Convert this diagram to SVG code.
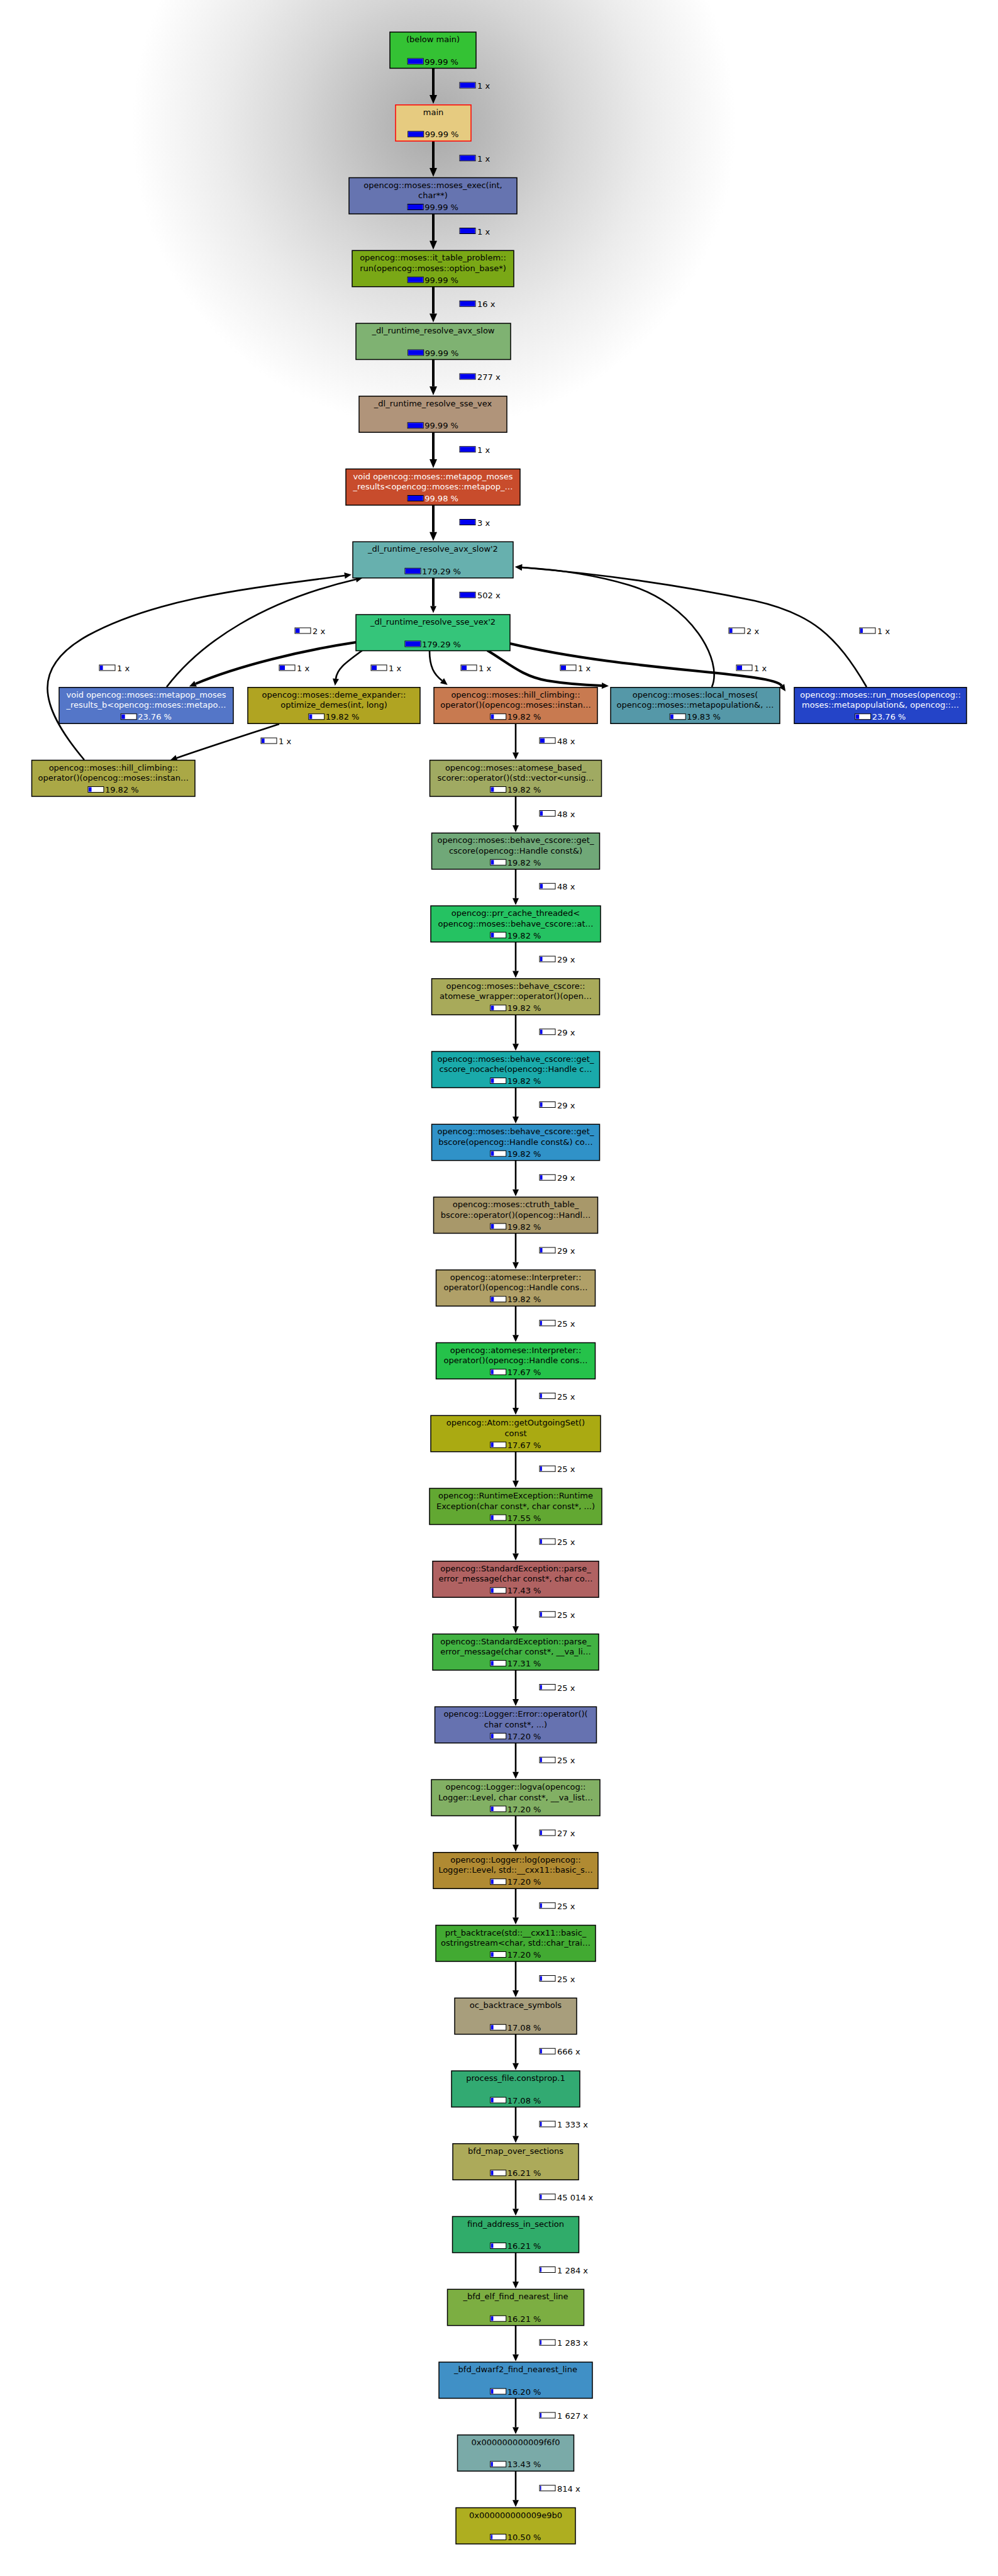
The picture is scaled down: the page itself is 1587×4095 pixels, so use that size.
<svg xmlns="http://www.w3.org/2000/svg" width="1587" height="4095" viewBox="0 0 1587 4095">
<defs>
<radialGradient id="shade" gradientUnits="userSpaceOnUse" cx="690" cy="200" r="480">
<stop offset="0" stop-color="#a8a8a8"/>
<stop offset="0.2" stop-color="#bcbcbc"/>
<stop offset="0.45" stop-color="#d6d6d6"/>
<stop offset="0.7" stop-color="#ebebeb"/>
<stop offset="1" stop-color="#ffffff"/>
</radialGradient>
<marker id="ah" markerUnits="userSpaceOnUse" markerWidth="16" markerHeight="14" refX="0" refY="0" orient="auto" viewBox="0 -7 16 14" overflow="visible">
<path d="M0,-6 L14,0 L0,6 z" fill="#000"/>
</marker>
<marker id="as" markerUnits="userSpaceOnUse" markerWidth="14" markerHeight="12" refX="0" refY="0" orient="auto" viewBox="0 -6 14 12" overflow="visible">
<path d="M0,-5 L11,0 L0,5 z" fill="#000"/>
</marker>
</defs>
<style>
.nr{stroke:#000;stroke-width:1.5}
text{font-family:"DejaVu Sans","Liberation Sans",sans-serif;font-size:13px;fill:#000}
.t{text-anchor:middle}
.w text,.w .t{fill:#fff}
.bb{fill:#fff;stroke:#000;stroke-width:1}
.bf{fill:#0000f0}
.e{fill:none;stroke:#000;stroke-width:2.6}
.ek{fill:none;stroke:#000;stroke-width:4}
.ea{marker-end:url(#ah)}
.es{marker-end:url(#as)}
</style>
<rect x="0" y="0" width="1587" height="4095" fill="#fff"/>
<rect x="0" y="0" width="1587" height="700" fill="url(#shade)"/>

<g id="connectors">
<path class="ek ea" d="M689,108.5 V151"/>
<path class="ek ea" d="M689,224.25 V267"/>
<path class="ek ea" d="M689,340 V382.75"/>
<path class="ek ea" d="M689,455.75 V498.5"/>
<path class="ek ea" d="M689,571.5 V614.25"/>
<path class="ek ea" d="M689,687.25 V730"/>
<path class="ek ea" d="M689,803 V845.75"/>
<path class="ek es" d="M689,918.75 V963.5"/>
<path class="ek es" d="M566,1021 C480,1034 380,1058 311,1087"/>
<path class="e es" d="M576,1034 C552,1052 536,1062 534,1079"/>
<path class="e es" d="M683,1034 C683,1060 690,1072 703,1082"/>
<path class="ek es" d="M775,1034 C810,1055 830,1075 870,1082 C900,1087 930,1089 957,1090"/>
<path class="ek es" d="M811,1023 C1000,1068 1228,1068 1243,1090"/>
<path class="e es" d="M265,1092 C320,1020 420,955 566,921"/>
<path class="e es" d="M134,1208 C60,1120 50,1060 140,1010 C250,950 400,935 548,915"/>
<path class="e es" d="M1132,1092 C1150,1050 1100,960 1000,930 C940,912 880,905 830,902"/>
<path class="e es" d="M1378,1092 C1330,1010 1290,975 1200,955 C1080,930 950,912 830,902"/>
<path class="e es" d="M444,1151 C380,1172 330,1188 281,1205"/>
<path class="e es" d="M820,1150.25 V1196.25"/>
<path class="e es" d="M820,1266 V1312"/>
<path class="e es" d="M820,1381.75 V1427.75"/>
<path class="e es" d="M820,1497.5 V1543.5"/>
<path class="e es" d="M820,1613.25 V1659.25"/>
<path class="e es" d="M820,1729 V1775"/>
<path class="e es" d="M820,1844.75 V1890.75"/>
<path class="e es" d="M820,1960.5 V2006.5"/>
<path class="e es" d="M820,2076.25 V2122.25"/>
<path class="e es" d="M820,2192 V2238"/>
<path class="e es" d="M820,2307.75 V2353.75"/>
<path class="e es" d="M820,2423.5 V2469.5"/>
<path class="e es" d="M820,2539.25 V2585.25"/>
<path class="e es" d="M820,2655 V2701"/>
<path class="e es" d="M820,2770.75 V2816.75"/>
<path class="e es" d="M820,2886.5 V2932.5"/>
<path class="e es" d="M820,3002.25 V3048.25"/>
<path class="e es" d="M820,3118 V3164"/>
<path class="e es" d="M820,3233.75 V3279.75"/>
<path class="e es" d="M820,3349.5 V3395.5"/>
<path class="e es" d="M820,3465.25 V3511.25"/>
<path class="e es" d="M820,3581 V3627"/>
<path class="e es" d="M820,3696.75 V3742.75"/>
<path class="e es" d="M820,3812.5 V3858.5"/>
<path class="e es" d="M820,3928.25 V3974.25"/>

<g id="edge-labels">
<rect class="bb" x="731" y="131" width="25" height="9"/><rect class="bf" x="731.5" y="131.5" width="24" height="8"/><text x="759" y="141">1 x</text>
<rect class="bb" x="731" y="246.75" width="25" height="9"/><rect class="bf" x="731.5" y="247.25" width="24" height="8"/><text x="759" y="256.75">1 x</text>
<rect class="bb" x="731" y="362.5" width="25" height="9"/><rect class="bf" x="731.5" y="363" width="24" height="8"/><text x="759" y="372.5">1 x</text>
<rect class="bb" x="731" y="478.25" width="25" height="9"/><rect class="bf" x="731.5" y="478.75" width="24" height="8"/><text x="759" y="488.25">16 x</text>
<rect class="bb" x="731" y="594" width="25" height="9"/><rect class="bf" x="731.5" y="594.5" width="24" height="8"/><text x="759" y="604">277 x</text>
<rect class="bb" x="731" y="709.75" width="25" height="9"/><rect class="bf" x="731.5" y="710.25" width="24" height="8"/><text x="759" y="719.75">1 x</text>
<rect class="bb" x="731" y="825.5" width="25" height="9"/><rect class="bf" x="731.5" y="826" width="24" height="8"/><text x="759" y="835.5">3 x</text>
<rect class="bb" x="731" y="941.25" width="25" height="9"/><rect class="bf" x="731.5" y="941.75" width="24" height="8"/><text x="759" y="951.25">502 x</text>

<rect class="bb" x="469" y="998" width="25" height="9"/><rect class="bf" x="470" y="999" width="6.5" height="7"/><text x="497" y="1008">2 x</text>
<rect class="bb" x="1159" y="998" width="25" height="9"/><rect class="bf" x="1160" y="999" width="4.6" height="7"/><text x="1187" y="1008">2 x</text>
<rect class="bb" x="1367" y="998" width="25" height="9"/><rect class="bf" x="1368" y="999" width="4" height="7"/><text x="1395" y="1008">1 x</text>
<rect class="bb" x="158" y="1057" width="25" height="9"/><rect class="bf" x="159" y="1058" width="4.6" height="7"/><text x="186" y="1067">1 x</text>
<rect class="bb" x="444" y="1057" width="25" height="9"/><rect class="bf" x="445" y="1058" width="8" height="7"/><text x="472" y="1067">1 x</text>
<rect class="bb" x="590" y="1057" width="25" height="9"/><rect class="bf" x="591" y="1058" width="8" height="7"/><text x="618" y="1067">1 x</text>
<rect class="bb" x="733" y="1057" width="25" height="9"/><rect class="bf" x="734" y="1058" width="8" height="7"/><text x="761" y="1067">1 x</text>
<rect class="bb" x="891" y="1057" width="25" height="9"/><rect class="bf" x="892" y="1058" width="8" height="7"/><text x="919" y="1067">1 x</text>
<rect class="bb" x="1171" y="1057" width="25" height="9"/><rect class="bf" x="1172" y="1058" width="8" height="7"/><text x="1199" y="1067">1 x</text>
<rect class="bb" x="415" y="1173" width="25" height="9"/><rect class="bf" x="416" y="1174" width="4.6" height="7"/><text x="443" y="1183">1 x</text>
<rect class="bb" x="858" y="1172.75" width="25" height="9"/><rect class="bf" x="859" y="1173.75" width="7" height="7"/><text x="886" y="1182.75">48 x</text>

<rect class="bb" x="858" y="1288.5" width="25" height="9"/><rect class="bf" x="859" y="1289.5" width="4" height="7"/><text x="886" y="1298.5">48 x</text>
<rect class="bb" x="858" y="1404.25" width="25" height="9"/><rect class="bf" x="859" y="1405.25" width="4" height="7"/><text x="886" y="1414.25">48 x</text>
<rect class="bb" x="858" y="1520" width="25" height="9"/><rect class="bf" x="859" y="1521" width="3.5" height="7"/><text x="886" y="1530">29 x</text>
<rect class="bb" x="858" y="1635.75" width="25" height="9"/><rect class="bf" x="859" y="1636.75" width="3.5" height="7"/><text x="886" y="1645.75">29 x</text>
<rect class="bb" x="858" y="1751.5" width="25" height="9"/><rect class="bf" x="859" y="1752.5" width="3.5" height="7"/><text x="886" y="1761.5">29 x</text>
<rect class="bb" x="858" y="1867.25" width="25" height="9"/><rect class="bf" x="859" y="1868.25" width="3.5" height="7"/><text x="886" y="1877.25">29 x</text>
<rect class="bb" x="858" y="1983" width="25" height="9"/><rect class="bf" x="859" y="1984" width="3.5" height="7"/><text x="886" y="1993">29 x</text>
<rect class="bb" x="858" y="2098.75" width="25" height="9"/><rect class="bf" x="859" y="2099.75" width="2.8" height="7"/><text x="886" y="2108.75">25 x</text>
<rect class="bb" x="858" y="2214.5" width="25" height="9"/><rect class="bf" x="859" y="2215.5" width="2.8" height="7"/><text x="886" y="2224.5">25 x</text>
<rect class="bb" x="858" y="2330.25" width="25" height="9"/><rect class="bf" x="859" y="2331.25" width="2.8" height="7"/><text x="886" y="2340.25">25 x</text>
<rect class="bb" x="858" y="2446" width="25" height="9"/><rect class="bf" x="859" y="2447" width="2.8" height="7"/><text x="886" y="2456">25 x</text>
<rect class="bb" x="858" y="2561.75" width="25" height="9"/><rect class="bf" x="859" y="2562.75" width="2.8" height="7"/><text x="886" y="2571.75">25 x</text>
<rect class="bb" x="858" y="2677.5" width="25" height="9"/><rect class="bf" x="859" y="2678.5" width="2.8" height="7"/><text x="886" y="2687.5">25 x</text>
<rect class="bb" x="858" y="2793.25" width="25" height="9"/><rect class="bf" x="859" y="2794.25" width="2.8" height="7"/><text x="886" y="2803.25">25 x</text>
<rect class="bb" x="858" y="2909" width="25" height="9"/><rect class="bf" x="859" y="2910" width="2.8" height="7"/><text x="886" y="2919">27 x</text>
<rect class="bb" x="858" y="3024.75" width="25" height="9"/><rect class="bf" x="859" y="3025.75" width="2.8" height="7"/><text x="886" y="3034.75">25 x</text>
<rect class="bb" x="858" y="3140.5" width="25" height="9"/><rect class="bf" x="859" y="3141.5" width="2.8" height="7"/><text x="886" y="3150.5">25 x</text>
<rect class="bb" x="858" y="3256.25" width="25" height="9"/><rect class="bf" x="859" y="3257.25" width="2.8" height="7"/><text x="886" y="3266.25">666 x</text>
<rect class="bb" x="858" y="3372" width="25" height="9"/><rect class="bf" x="859" y="3373" width="2.4" height="7"/><text x="886" y="3382">1 333 x</text>
<rect class="bb" x="858" y="3487.75" width="25" height="9"/><rect class="bf" x="859" y="3488.75" width="2.4" height="7"/><text x="886" y="3497.75">45 014 x</text>
<rect class="bb" x="858" y="3603.5" width="25" height="9"/><rect class="bf" x="859" y="3604.5" width="2" height="7"/><text x="886" y="3613.5">1 284 x</text>
<rect class="bb" x="858" y="3719.25" width="25" height="9"/><rect class="bf" x="859" y="3720.25" width="2" height="7"/><text x="886" y="3729.25">1 283 x</text>
<rect class="bb" x="858" y="3835" width="25" height="9"/><rect class="bf" x="859" y="3836" width="2" height="7"/><text x="886" y="3845">1 627 x</text>
<rect class="bb" x="858" y="3950.75" width="25" height="9"/><rect class="bf" x="859" y="3951.75" width="1.5" height="7"/><text x="886" y="3960.75">814 x</text>
</g>
</g>

<g id="n0" transform="translate(620,51)"><rect class="nr" width="137" height="57.5" fill="#34c234"/><text class="t" x="68.5" y="16">(below main)</text><rect class="bb" x="28.2" y="42" width="25" height="9"/><rect class="bf" x="28.7" y="42.5" width="24" height="8"/><text x="55.2" y="51.5">99.99 %</text></g>
<g id="n1" transform="translate(629,166.75)"><rect width="120" height="57.5" fill="#e6cb80" stroke="#ff0000" stroke-width="1.5"/><text class="t" x="60" y="16">main</text><rect class="bb" x="19.7" y="42" width="25" height="9"/><rect class="bf" x="20.2" y="42.5" width="24" height="8"/><text x="46.7" y="51.5">99.99 %</text></g>
<g id="n2" transform="translate(555,282.5)"><rect class="nr" width="267" height="57.5" fill="#6674b0"/><text class="t" x="133.5" y="16">opencog::moses::moses_exec(int,</text><text class="t" x="133.5" y="32.5">char**)</text><rect class="bb" x="93.2" y="42" width="25" height="9"/><rect class="bf" x="93.7" y="42.5" width="24" height="8"/><text x="120.2" y="51.5">99.99 %</text></g>
<g id="n3" transform="translate(560,398.25)"><rect class="nr" width="257" height="57.5" fill="#7aa816"/><text class="t" x="128.5" y="16">opencog::moses::it_table_problem::</text><text class="t" x="128.5" y="32.5">run(opencog::moses::option_base*)</text><rect class="bb" x="88.2" y="42" width="25" height="9"/><rect class="bf" x="88.7" y="42.5" width="24" height="8"/><text x="115.2" y="51.5">99.99 %</text></g>
<g id="n4" transform="translate(566,514)"><rect class="nr" width="246" height="57.5" fill="#7fb272"/><text class="t" x="123" y="16">_dl_runtime_resolve_avx_slow</text><rect class="bb" x="82.7" y="42" width="25" height="9"/><rect class="bf" x="83.2" y="42.5" width="24" height="8"/><text x="109.7" y="51.5">99.99 %</text></g>
<g id="n5" transform="translate(571,629.75)"><rect class="nr" width="235" height="57.5" fill="#b0947a"/><text class="t" x="117.5" y="16">_dl_runtime_resolve_sse_vex</text><rect class="bb" x="77.2" y="42" width="25" height="9"/><rect class="bf" x="77.7" y="42.5" width="24" height="8"/><text x="104.2" y="51.5">99.99 %</text></g>
<g id="n6" class="w" transform="translate(550,745.5)"><rect class="nr" width="277" height="57.5" fill="#c84c2c"/><text class="t" x="138.5" y="16">void opencog::moses::metapop_moses</text><text class="t" x="138.5" y="32.5">_results&lt;opencog::moses::metapop_…</text><rect class="bb" x="98.2" y="42" width="25" height="9"/><rect class="bf" x="98.7" y="42.5" width="24" height="8"/><text x="125.2" y="51.5">99.98 %</text></g>
<g id="n7" transform="translate(561,861.25)"><rect class="nr" width="255" height="57.5" fill="#67b0ae"/><text class="t" x="127.5" y="16">_dl_runtime_resolve_avx_slow'2</text><rect class="bb" x="83" y="42" width="25" height="9"/><rect class="bf" x="83.5" y="42.5" width="24" height="8"/><text x="110" y="51.5">179.29 %</text></g>
<g id="n8" transform="translate(566,977)"><rect class="nr" width="245" height="57.5" fill="#35c57a"/><text class="t" x="122.5" y="16">_dl_runtime_resolve_sse_vex'2</text><rect class="bb" x="78" y="42" width="25" height="9"/><rect class="bf" x="78.5" y="42.5" width="24" height="8"/><text x="105" y="51.5">179.29 %</text></g>

<g id="n9a" class="w" transform="translate(94,1092.75)"><rect class="nr" width="277" height="57.5" fill="#5476c8"/><text class="t" x="138.5" y="16">void opencog::moses::metapop_moses</text><text class="t" x="138.5" y="32.5">_results_b&lt;opencog::moses::metapo…</text><rect class="bb" x="98.2" y="42" width="25" height="9"/><rect class="bf" x="99.2" y="43" width="5.5" height="7"/><text x="125.2" y="51.5">23.76 %</text></g>
<g id="n9b" transform="translate(394,1092.75)"><rect class="nr" width="274" height="57.5" fill="#b0a422"/><text class="t" x="137" y="16">opencog::moses::deme_expander::</text><text class="t" x="137" y="32.5">optimize_demes(int, long)</text><rect class="bb" x="96.7" y="42" width="25" height="9"/><rect class="bf" x="97.7" y="43" width="4.6" height="7"/><text x="123.7" y="51.5">19.82 %</text></g>
<g id="n9c" transform="translate(690,1092.75)"><rect class="nr" width="260" height="57.5" fill="#c87a50"/><text class="t" x="130" y="16">opencog::moses::hill_climbing::</text><text class="t" x="130" y="32.5">operator()(opencog::moses::instan…</text><rect class="bb" x="89.7" y="42" width="25" height="9"/><rect class="bf" x="90.7" y="43" width="4.6" height="7"/><text x="116.7" y="51.5">19.82 %</text></g>
<g id="n9d" transform="translate(971,1092.75)"><rect class="nr" width="269" height="57.5" fill="#5598a8"/><text class="t" x="134.5" y="16">opencog::moses::local_moses(</text><text class="t" x="134.5" y="32.5">opencog::moses::metapopulation&amp;, …</text><rect class="bb" x="94.2" y="42" width="25" height="9"/><rect class="bf" x="95.2" y="43" width="4.6" height="7"/><text x="121.2" y="51.5">19.83 %</text></g>
<g id="n9e" class="w" transform="translate(1263,1092.75)"><rect class="nr" width="274" height="57.5" fill="#2444c8"/><text class="t" x="137" y="16">opencog::moses::run_moses(opencog::</text><text class="t" x="137" y="32.5">moses::metapopulation&amp;, opencog::…</text><rect class="bb" x="96.7" y="42" width="25" height="9"/><rect class="bf" x="97.7" y="43" width="5.5" height="7"/><text x="123.7" y="51.5">23.76 %</text></g>
<g id="n10a" transform="translate(50.5,1208.5)"><rect class="nr" width="259.5" height="57.5" fill="#aaa846"/><text class="t" x="129.75" y="16">opencog::moses::hill_climbing::</text><text class="t" x="129.75" y="32.5">operator()(opencog::moses::instan…</text><rect class="bb" x="89.45" y="42" width="25" height="9"/><rect class="bf" x="90.45" y="43" width="4.6" height="7"/><text x="116.45" y="51.5">19.82 %</text></g>
<g id="n10b" transform="translate(683.5,1208.5)"><rect class="nr" width="273" height="57.5" fill="#a0aa62"/><text class="t" x="136.5" y="16">opencog::moses::atomese_based_</text><text class="t" x="136.5" y="32.5">scorer::operator()(std::vector&lt;unsig…</text><rect class="bb" x="96.2" y="42" width="25" height="9"/><rect class="bf" x="97.2" y="43" width="4.6" height="7"/><text x="123.2" y="51.5">19.82 %</text></g>

<g id="n11" transform="translate(686.5,1324.25)"><rect class="nr" width="267" height="57.5" fill="#70a878"/><text class="t" x="133.5" y="16">opencog::moses::behave_cscore::get_</text><text class="t" x="133.5" y="32.5">cscore(opencog::Handle const&amp;)</text><rect class="bb" x="93.2" y="42" width="25" height="9"/><rect class="bf" x="94.2" y="43" width="4.6" height="7"/><text x="120.2" y="51.5">19.82 %</text></g>
<g id="n12" transform="translate(685,1440)"><rect class="nr" width="270" height="57.5" fill="#25c262"/><text class="t" x="135" y="16">opencog::prr_cache_threaded&lt;</text><text class="t" x="135" y="32.5">opencog::moses::behave_cscore::at…</text><rect class="bb" x="94.7" y="42" width="25" height="9"/><rect class="bf" x="95.7" y="43" width="4.6" height="7"/><text x="121.7" y="51.5">19.82 %</text></g>
<g id="n13" transform="translate(686.5,1555.75)"><rect class="nr" width="267" height="57.5" fill="#a8aa5a"/><text class="t" x="133.5" y="16">opencog::moses::behave_cscore::</text><text class="t" x="133.5" y="32.5">atomese_wrapper::operator()(open…</text><rect class="bb" x="93.2" y="42" width="25" height="9"/><rect class="bf" x="94.2" y="43" width="4.6" height="7"/><text x="120.2" y="51.5">19.82 %</text></g>
<g id="n14" transform="translate(686.5,1671.5)"><rect class="nr" width="267" height="57.5" fill="#1aaaaa"/><text class="t" x="133.5" y="16">opencog::moses::behave_cscore::get_</text><text class="t" x="133.5" y="32.5">cscore_nocache(opencog::Handle c…</text><rect class="bb" x="93.2" y="42" width="25" height="9"/><rect class="bf" x="94.2" y="43" width="4.6" height="7"/><text x="120.2" y="51.5">19.82 %</text></g>
<g id="n15" transform="translate(686.5,1787.25)"><rect class="nr" width="267" height="57.5" fill="#3092c8"/><text class="t" x="133.5" y="16">opencog::moses::behave_cscore::get_</text><text class="t" x="133.5" y="32.5">bscore(opencog::Handle const&amp;) co…</text><rect class="bb" x="93.2" y="42" width="25" height="9"/><rect class="bf" x="94.2" y="43" width="4.6" height="7"/><text x="120.2" y="51.5">19.82 %</text></g>
<g id="n16" transform="translate(689.5,1903)"><rect class="nr" width="261" height="57.5" fill="#a8986a"/><text class="t" x="130.5" y="16">opencog::moses::ctruth_table_</text><text class="t" x="130.5" y="32.5">bscore::operator()(opencog::Handl…</text><rect class="bb" x="90.2" y="42" width="25" height="9"/><rect class="bf" x="91.2" y="43" width="4.6" height="7"/><text x="117.2" y="51.5">19.82 %</text></g>
<g id="n17" transform="translate(693.5,2018.75)"><rect class="nr" width="253" height="57.5" fill="#b0a068"/><text class="t" x="126.5" y="16">opencog::atomese::Interpreter::</text><text class="t" x="126.5" y="32.5">operator()(opencog::Handle cons…</text><rect class="bb" x="86.2" y="42" width="25" height="9"/><rect class="bf" x="87.2" y="43" width="4.6" height="7"/><text x="113.2" y="51.5">19.82 %</text></g>
<g id="n18" transform="translate(693.5,2134.5)"><rect class="nr" width="253" height="57.5" fill="#25c24a"/><text class="t" x="126.5" y="16">opencog::atomese::Interpreter::</text><text class="t" x="126.5" y="32.5">operator()(opencog::Handle cons…</text><rect class="bb" x="86.2" y="42" width="25" height="9"/><rect class="bf" x="87.2" y="43" width="4" height="7"/><text x="113.2" y="51.5">17.67 %</text></g>
<g id="n19" transform="translate(685,2250.25)"><rect class="nr" width="270" height="57.5" fill="#aaaa12"/><text class="t" x="135" y="16">opencog::Atom::getOutgoingSet()</text><text class="t" x="135" y="32.5">const</text><rect class="bb" x="94.7" y="42" width="25" height="9"/><rect class="bf" x="95.7" y="43" width="4" height="7"/><text x="121.7" y="51.5">17.67 %</text></g>
<g id="n20" transform="translate(683,2366)"><rect class="nr" width="274" height="57.5" fill="#62a832"/><text class="t" x="137" y="16">opencog::RuntimeException::Runtime</text><text class="t" x="137" y="32.5">Exception(char const*, char const*, ...)</text><rect class="bb" x="96.7" y="42" width="25" height="9"/><rect class="bf" x="97.7" y="43" width="4" height="7"/><text x="123.7" y="51.5">17.55 %</text></g>
<g id="n21" transform="translate(688,2481.75)"><rect class="nr" width="264" height="57.5" fill="#b06262"/><text class="t" x="132" y="16">opencog::StandardException::parse_</text><text class="t" x="132" y="32.5">error_message(char const*, char co…</text><rect class="bb" x="91.7" y="42" width="25" height="9"/><rect class="bf" x="92.7" y="43" width="4" height="7"/><text x="118.7" y="51.5">17.43 %</text></g>
<g id="n22" transform="translate(688,2597.5)"><rect class="nr" width="264" height="57.5" fill="#42b242"/><text class="t" x="132" y="16">opencog::StandardException::parse_</text><text class="t" x="132" y="32.5">error_message(char const*, __va_li…</text><rect class="bb" x="91.7" y="42" width="25" height="9"/><rect class="bf" x="92.7" y="43" width="4" height="7"/><text x="118.7" y="51.5">17.31 %</text></g>
<g id="n23" transform="translate(691.5,2713.25)"><rect class="nr" width="257" height="57.5" fill="#6672b0"/><text class="t" x="128.5" y="16">opencog::Logger::Error::operator()(</text><text class="t" x="128.5" y="32.5">char const*, ...)</text><rect class="bb" x="88.2" y="42" width="25" height="9"/><rect class="bf" x="89.2" y="43" width="4" height="7"/><text x="115.2" y="51.5">17.20 %</text></g>
<g id="n24" transform="translate(686,2829)"><rect class="nr" width="268" height="57.5" fill="#82b064"/><text class="t" x="134" y="16">opencog::Logger::logva(opencog::</text><text class="t" x="134" y="32.5">Logger::Level, char const*, __va_list…</text><rect class="bb" x="93.7" y="42" width="25" height="9"/><rect class="bf" x="94.7" y="43" width="4" height="7"/><text x="120.7" y="51.5">17.20 %</text></g>
<g id="n25" transform="translate(689,2944.75)"><rect class="nr" width="262" height="57.5" fill="#b08a32"/><text class="t" x="131" y="16">opencog::Logger::log(opencog::</text><text class="t" x="131" y="32.5">Logger::Level, std::__cxx11::basic_s…</text><rect class="bb" x="90.7" y="42" width="25" height="9"/><rect class="bf" x="91.7" y="43" width="4" height="7"/><text x="117.7" y="51.5">17.20 %</text></g>
<g id="n26" transform="translate(693,3060.5)"><rect class="nr" width="254" height="57.5" fill="#42aa32"/><text class="t" x="127" y="16">prt_backtrace(std::__cxx11::basic_</text><text class="t" x="127" y="32.5">ostringstream&lt;char, std::char_trai…</text><rect class="bb" x="86.7" y="42" width="25" height="9"/><rect class="bf" x="87.7" y="43" width="4" height="7"/><text x="113.7" y="51.5">17.20 %</text></g>
<g id="n27" transform="translate(723,3176.25)"><rect class="nr" width="194" height="57.5" fill="#a89e7c"/><text class="t" x="97" y="16">oc_backtrace_symbols</text><rect class="bb" x="56.7" y="42" width="25" height="9"/><rect class="bf" x="57.7" y="43" width="3.9" height="7"/><text x="83.7" y="51.5">17.08 %</text></g>
<g id="n28" transform="translate(718,3292)"><rect class="nr" width="204" height="57.5" fill="#32aa72"/><text class="t" x="102" y="16">process_file.constprop.1</text><rect class="bb" x="61.7" y="42" width="25" height="9"/><rect class="bf" x="62.7" y="43" width="3.9" height="7"/><text x="88.7" y="51.5">17.08 %</text></g>
<g id="n29" transform="translate(720,3407.75)"><rect class="nr" width="200" height="57.5" fill="#acaa5a"/><text class="t" x="100" y="16">bfd_map_over_sections</text><rect class="bb" x="59.7" y="42" width="25" height="9"/><rect class="bf" x="60.7" y="43" width="3.7" height="7"/><text x="86.7" y="51.5">16.21 %</text></g>
<g id="n30" transform="translate(719.5,3523.5)"><rect class="nr" width="201" height="57.5" fill="#30ac6a"/><text class="t" x="100.5" y="16">find_address_in_section</text><rect class="bb" x="60.2" y="42" width="25" height="9"/><rect class="bf" x="61.2" y="43" width="3.7" height="7"/><text x="87.2" y="51.5">16.21 %</text></g>
<g id="n31" transform="translate(711.5,3639.25)"><rect class="nr" width="217" height="57.5" fill="#7cae42"/><text class="t" x="108.5" y="16">_bfd_elf_find_nearest_line</text><rect class="bb" x="68.2" y="42" width="25" height="9"/><rect class="bf" x="69.2" y="43" width="3.7" height="7"/><text x="95.2" y="51.5">16.21 %</text></g>
<g id="n32" transform="translate(698,3755)"><rect class="nr" width="244" height="57.5" fill="#4090c6"/><text class="t" x="122" y="16">_bfd_dwarf2_find_nearest_line</text><rect class="bb" x="81.7" y="42" width="25" height="9"/><rect class="bf" x="82.7" y="43" width="3.7" height="7"/><text x="108.7" y="51.5">16.20 %</text></g>
<g id="n33" transform="translate(727.5,3870.75)"><rect class="nr" width="185" height="57.5" fill="#7aaaa8"/><text class="t" x="92.5" y="16">0x000000000009f6f0</text><rect class="bb" x="52.2" y="42" width="25" height="9"/><rect class="bf" x="53.2" y="43" width="3.1" height="7"/><text x="79.2" y="51.5">13.43 %</text></g>
<g id="n34" transform="translate(725,3986.5)"><rect class="nr" width="190" height="57.5" fill="#aeae20"/><text class="t" x="95" y="16">0x000000000009e9b0</text><rect class="bb" x="54.7" y="42" width="25" height="9"/><rect class="bf" x="55.7" y="43" width="2.4" height="7"/><text x="81.7" y="51.5">10.50 %</text></g>
</svg>
